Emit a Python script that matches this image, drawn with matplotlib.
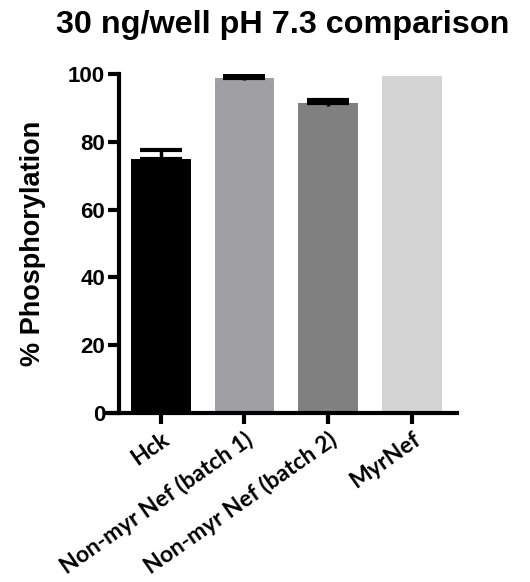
import matplotlib
matplotlib.use("Agg")
import matplotlib.pyplot as plt
from matplotlib.transforms import ScaledTranslation

categories = ["Hck", "Non-myr Nef (batch 1)", "Non-myr Nef (batch 2)", "MyrNef"]
values = [74.9, 98.9, 91.4, 99.5]
errors = [2.8, 0.6, 0.8, 0.0]
colors = ["#000000", "#a0a0a4", "#808080", "#d4d4d4"]
yticks = [0, 20, 40, 60, 80, 100]

fig = plt.figure(figsize=(5.30, 5.82), dpi=100)
ax = fig.add_axes([119/530, 1-413/582, (457-119)/530, (413-74)/582])

x = list(range(len(categories)))
ax.bar(x, values, width=0.717, color=colors, zorder=2)
for xi, v, e in zip(x, values, errors):
    if e > 0:
        ax.errorbar([xi], [v], yerr=[[0], [e]], fmt='none', ecolor='black',
                    elinewidth=2.5, capsize=15, capthick=3, zorder=3)
        ax.errorbar([xi], [v], yerr=[[0.8], [0]], fmt='none', ecolor='black',
                    elinewidth=2.5, capsize=0, zorder=3)

ax.set_xlim(-0.5, 3.54)
ax.set_ylim(0, 100)
ax.set_yticks(yticks)
ax.set_yticklabels([str(t) for t in yticks], fontfamily="Liberation Sans",
                   fontweight="bold", fontsize=16)
ax.set_xticks(x)
ax.set_xticklabels(categories, rotation=35, ha="right", va="top",
                   rotation_mode="anchor", fontfamily="Lato", fontweight="bold",
                   fontsize=16.5)
offset = ScaledTranslation(7/100, 2/100, fig.dpi_scale_trans)
for lbl in ax.get_xticklabels():
    lbl.set_transform(lbl.get_transform() + offset)
for s in ["top", "right"]:
    ax.spines[s].set_visible(False)
for s in ["left", "bottom"]:
    ax.spines[s].set_linewidth(3)
ax.spines["bottom"].set_bounds(-0.5 - 12/83.7, 3.54)
ax.tick_params(axis="both", direction="out", length=8, width=3, pad=2)
ax.tick_params(axis="x", pad=3)

ax.set_ylabel("% Phosphorylation", fontfamily="Liberation Sans",
              fontweight="bold", fontsize=19.5, labelpad=16)
fig.text(0.534, 0.957, "30 ng/well pH 7.3 comparison", ha="center", va="center",
         fontfamily="Liberation Sans", fontweight="bold", fontsize=23.3)

fig.savefig("out.png", dpi=100)
